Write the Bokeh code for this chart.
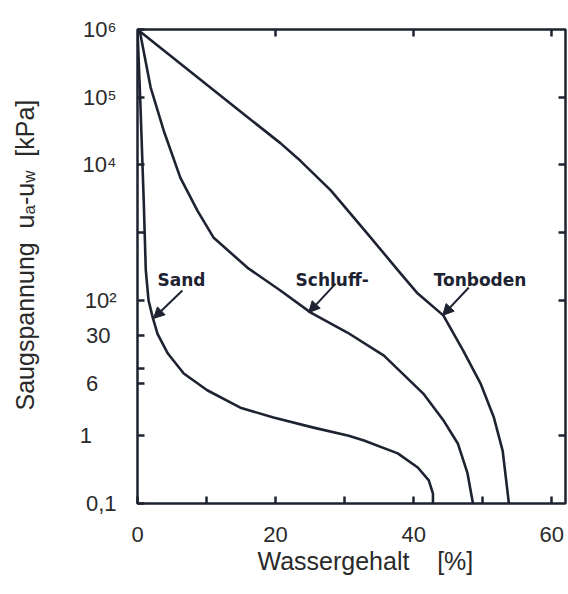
import math
from bokeh.plotting import figure
from bokeh.layouts import row
from bokeh.models import LinearAxis, LogAxis, FixedTicker, Label, Arrow, NormalHead, Range1d
from bokeh.core.properties import value
from bokeh.embed import file_html
from bokeh.resources import INLINE

# ---- data ----
sand_x = [0, 0.4, 0.9, 1.2, 1.6, 2.2, 2.9, 4.4, 6.7, 10.1, 14.9, 19.7, 25.5, 30.6, 32.8, 37.7, 40.6, 42.2, 42.8, 42.8]
sand_y = [1e6, 9e4, 3000, 280, 100, 56, 32, 16.4, 8.3, 4.7, 2.6, 1.86, 1.32, 1.0, 0.85, 0.55, 0.34, 0.22, 0.14, 0.1]

schluff_x = [0, 0.4, 1.9, 3.8, 6.2, 8.7, 11.0, 15.9, 20.7, 25.1, 30.4, 35.7, 41.4, 44.3, 46.4, 47.8, 48.6]
schluff_y = [1e6, 8.7e5, 1.4e5, 3.2e4, 6500, 2100, 850, 305, 140, 66, 33.5, 15.3, 4.2, 1.7, 0.77, 0.28, 0.1]

ton_x = [0, 13.5, 20.7, 23.6, 28.0, 33.3, 38.1, 40.6, 44.3, 47.2, 49.7, 51.6, 52.9, 53.6, 53.8]
ton_y = [1e6, 8e4, 2.1e4, 1.15e4, 4200, 970, 250, 126, 60, 18, 5.9, 1.9, 0.6, 0.15, 0.1]

curve_names = ["Sand", "Schluff-", "Tonboden"]

left_ticks = [1e6, 1e5, 1e4, 1e3, 1e2, 30, 10, 6, 1, 0.1]
left_tick_labels = ["10\u2076", "10\u2075", "10\u2074", "", "10\u00b2", "30", "", "6", "1", "0,1"]
right_ticks = [1e5, 1e4, 1e3, 1e2, 1]
bottom_major = [0, 20, 40, 60]
bottom_minor = [10, 30, 50]
top_ticks = [20, 40, 60]

# ---- styling / layout ----
INK = "#1e2331"
TXT = "#2a2a2a"
FONT = "Liberation Sans"

Y_MIN, Y_MAX = 0.1, 1e6
FRAME_TOP, FRAME_H = 29, 474
TOTAL_H = 594
LEFT_W = 73            # side panel that carries the rotated y title
MAIN_BORDER_L = 64
FRAME_W = 428

k = FRAME_H / (math.log10(Y_MAX) - math.log10(Y_MIN))   # pixels per decade

def py_to_val(py):
    return 10 ** (math.log10(Y_MAX) - (py - FRAME_TOP) / k)

# ---- main plot ----
p = figure(frame_width=FRAME_W, frame_height=FRAME_H,
           x_range=Range1d(0, 62.0), y_range=Range1d(Y_MIN, Y_MAX),
           y_axis_type="log", output_backend="svg", toolbar_location=None,
           min_border_left=MAIN_BORDER_L, min_border_top=FRAME_TOP,
           min_border_bottom=TOTAL_H - FRAME_TOP - FRAME_H, min_border_right=2)
p.grid.visible = False
p.background_fill_color = "white"
p.border_fill_color = "white"
p.outline_line_color = INK
p.outline_line_width = 2.5

def style_axis(ax, labels=True):
    ax.axis_line_color = None
    ax.major_tick_in = 7
    ax.major_tick_out = 0
    ax.minor_tick_in = 7
    ax.minor_tick_out = 0
    ax.major_tick_line_color = INK
    ax.major_tick_line_width = 2.5
    ax.minor_tick_line_color = INK
    ax.minor_tick_line_width = 2.5
    if labels:
        ax.major_label_text_font = FONT
        ax.major_label_text_font_size = "22px"
        ax.major_label_text_color = TXT
    else:
        ax.major_label_text_color = None
        ax.major_label_text_font_size = "1px"
        ax.major_label_standoff = 0

xa = p.xaxis[0]
xa.ticker = FixedTicker(ticks=bottom_major, minor_ticks=bottom_minor)
style_axis(xa)
xa.major_label_standoff = 23
xa.axis_label = "\u00a0" * 4 + "Wassergehalt" + "\u00a0" * 4 + "[%]"
xa.axis_label_text_font = FONT
xa.axis_label_text_font_size = "25px"
xa.axis_label_text_font_style = "normal"
xa.axis_label_text_color = TXT
xa.axis_label_standoff = 2

# left tick labels: padded with no-break spaces so that they line up on the left
pad = {"30": 1, "6": 3, "1": 4}
ya = p.yaxis[0]
ya.ticker = FixedTicker(ticks=left_ticks)
style_axis(ya)
ya.major_label_standoff = 21
ya.major_label_overrides = {t: lbl + "\u00a0" * pad.get(lbl, 0)
                            for t, lbl in zip(left_ticks, left_tick_labels)}

top = LinearAxis(ticker=FixedTicker(ticks=top_ticks))
style_axis(top, labels=False)
p.add_layout(top, "above")

right = LogAxis(ticker=FixedTicker(ticks=right_ticks))
style_axis(right, labels=False)
p.add_layout(right, "right")

# ---- curves ----
for xs, ys in [(sand_x, sand_y), (schluff_x, schluff_y), (ton_x, ton_y)]:
    p.line(xs, ys, line_color=INK, line_width=2.6, line_join="round", line_cap="round")

# ---- curve labels and arrows ----
label_x = [2.9, 22.9, 42.9]
label_y = [203, 203, 203]
arrow_start_x = [6.5, 28.7, 48.0]
arrow_start_y = [140, 177, 155]
arrow_end_x = [2.3, 24.8, 44.2]
arrow_end_y = [54, 66, 60]
for name, lx, ly in zip(curve_names, label_x, label_y):
    p.add_layout(Label(x=lx, y=ly, text=name, text_align="left", text_baseline="alphabetic",
                       text_font="DejaVu Sans", text_font_style="bold",
                       text_font_size="17px", text_color=INK))
for xs, ys, xe, ye in zip(arrow_start_x, arrow_start_y, arrow_end_x, arrow_end_y):
    p.add_layout(Arrow(x_start=xs, y_start=ys, x_end=xe, y_end=ye,
                       line_color=INK, line_width=2,
                       end=NormalHead(size=11, fill_color=INK, line_color=INK, line_width=1)))

# ---- side panel: rotated y title with subscripts (shares the log y range) ----
lf = figure(width=LEFT_W, height=TOTAL_H,
            x_range=Range1d(0, LEFT_W), y_range=p.y_range,
            y_axis_type="log", x_axis_location=None, y_axis_location=None,
            min_border_left=0, min_border_right=0,
            min_border_top=FRAME_TOP, min_border_bottom=TOTAL_H - FRAME_TOP - FRAME_H,
            toolbar_location=None, output_backend="svg")
lf.grid.visible = False
lf.outline_line_color = None
lf.background_fill_color = "white"
lf.border_fill_color = "white"

F, SUB = 25, 17
def w(txt, size):
    widths = {"S": 667, "a": 556, "u": 556, "g": 556, "s": 500, "p": 556, "n": 556,
              " ": 278, "-": 333, "[": 278, "k": 500, "P": 667, "]": 278, "w": 722}
    return sum(widths[c] for c in txt) * size / 1000.0

TITLE_X = 24
pieces = [("Saugspannung  u", F, 0), ("a", SUB, 5), ("-u", F, 0), ("w", SUB, 5), ("  [kPa]", F, 0)]
anchor = py_to_val(410)
cum = 0.0
for txt, size, sub in pieces:
    lf.text(x=[TITLE_X + sub], y=[anchor], text=[txt.replace(" ", "\u00a0")], angle=math.pi / 2,
            y_offset=-cum, text_align="left", text_baseline="alphabetic",
            text_font=value(FONT), text_font_size=f"{size}px", text_color=TXT)
    cum += w(txt, size)

layout = row(lf, p)
open("out.html", "w").write(file_html(layout, INLINE))
